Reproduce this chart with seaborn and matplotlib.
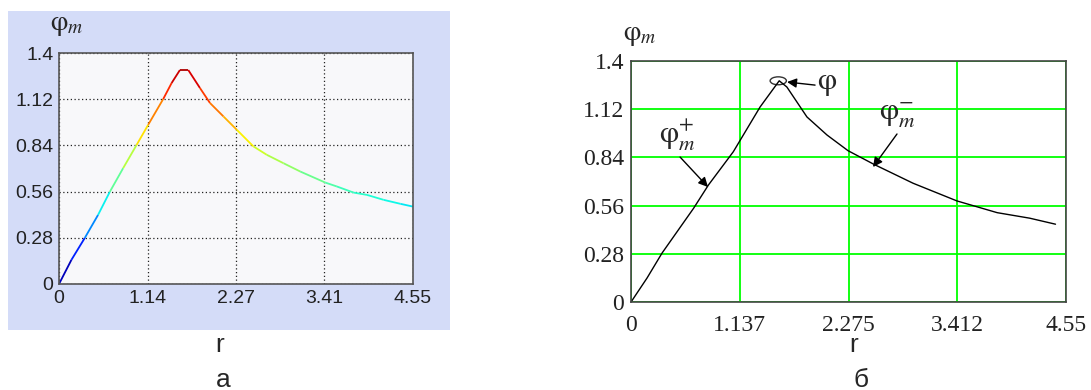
import numpy as np
import matplotlib
matplotlib.use('Agg')
import matplotlib.pyplot as plt
import seaborn as sns
import pandas as pd
from matplotlib.collections import LineCollection
from matplotlib.patches import Ellipse, Rectangle
from matplotlib.colors import Normalize

# panel a (coloured curve)
r_a = [0, 0.159, 0.331, 0.502, 0.652, 0.824, 0.996, 1.146, 1.339, 1.447, 1.554,
       1.661, 1.811, 1.940, 2.112, 2.284, 2.498, 2.670, 2.885, 3.099, 3.421,
       3.571, 3.786, 3.958, 4.172, 4.387, 4.55]
phi_a = [0, 0.146, 0.279, 0.419, 0.558, 0.702, 0.842, 0.965, 1.121, 1.218, 1.297,
         1.297, 1.188, 1.097, 1.016, 0.935, 0.834, 0.783, 0.732, 0.682, 0.615,
         0.591, 0.554, 0.540, 0.510, 0.486, 0.469]

# panel b (black curve)
r_b = [0, 0.167, 0.324, 0.655, 0.81, 1.07, 1.35, 1.55, 1.63, 1.84, 2.05, 2.27,
       2.54, 2.95, 3.41, 3.83, 4.17, 4.44]
phi_b = [0, 0.139, 0.284, 0.545, 0.68, 0.873, 1.133, 1.285, 1.249, 1.075, 0.97,
         0.879, 0.80, 0.69, 0.587, 0.519, 0.487, 0.452]

xticks_a = [0, 1.14, 2.27, 3.41, 4.55]
xticks_b = [0, 1.137, 2.275, 3.412, 4.55]
yticks = [0, 0.28, 0.56, 0.84, 1.12, 1.4]

sns.set_theme(style='white')
plt.rcParams['font.family'] = ['Liberation Sans', 'DejaVu Sans']
plt.rcParams['mathtext.fontset'] = 'stix'

fig = plt.figure(figsize=(10.91, 3.9), dpi=100)
fig.patches.append(Rectangle((0.0073, 0.1538), 0.405, 0.818, transform=fig.transFigure,
                             facecolor='#d4dcf8', edgecolor='none', zorder=-1))

######## panel a ########
ax1 = fig.add_axes([0.0541, 0.2718, 0.3245, 0.5923])
ax1.set_facecolor('#f8f8fa')
pts = np.array([r_a, phi_a]).T.reshape(-1, 1, 2)
segs = np.concatenate([pts[:-1], pts[1:]], axis=1)
lc = LineCollection(segs, cmap='jet', norm=Normalize(0, 1.35), linewidth=1.3)
lc.set_array((np.array(phi_a[:-1]) + np.array(phi_a[1:])) / 2)
ax1.add_collection(lc)
ax1.set_xlim(0, 4.55)
ax1.set_ylim(0, 1.4)
ax1.set_xticks(xticks_a)
ax1.set_xticklabels(['0', '1.14', '2.27', '3.41', '4.55'])
ax1.set_yticks(yticks)
ax1.set_yticklabels(['0', '0.28', '0.56', '0.84', '1.12', '1.4'])
ax1.grid(True, color='#222222', linestyle=(0, (1, 2)), linewidth=0.9)
ax1.tick_params(direction='in', length=3, labelsize=14, colors='#222222', pad=4)
for s in ax1.spines.values():
    s.set_color('#555555')
    s.set_linewidth(1.2)

fig.text(0.046, 0.936, r'$\mathrm{φ}_{m}$', fontsize=20, ha='left', va='center')
fig.text(0.2016, 0.115, 'r', fontsize=19, ha='center', va='center')
fig.text(0.205, 0.026, 'а', fontsize=19, ha='center', va='center')

######## panel b ########
ax2 = fig.add_axes([0.5784, 0.2256, 0.3987, 0.618])
ax2.set_facecolor('white')
df_b = pd.DataFrame({'r': r_b, 'phi': phi_b})
sns.lineplot(data=df_b, x='r', y='phi', ax=ax2, color='black', linewidth=1.0, sort=False)
ax2.set_xlim(0, 4.55)
ax2.set_ylim(0, 1.4)
ax2.set_xticks(xticks_b)
ax2.set_xticklabels(['0', '1.137', '2.275', '3.412', '4.55'], family='Liberation Serif')
ax2.set_yticks(yticks)
ax2.set_yticklabels(['0', '0.28', '0.56', '0.84', '1.12', '1.4'], family='Liberation Serif')
ax2.set_xlabel('')
ax2.set_ylabel('')
ax2.grid(True, color='#00ff00', linewidth=1.3)
ax2.set_axisbelow(True)
ax2.tick_params(length=0, labelsize=17, colors='#222222', pad=5)
ax2.tick_params(axis='x', pad=9)
for s in ax2.spines.values():
    s.set_color('#444444')
    s.set_linewidth(1.2)

ax2.add_patch(Ellipse((1.54, 1.285), 0.17, 0.046, fill=False, edgecolor='#333333', linewidth=1.0))
arrow = dict(arrowstyle='-|>', color='black', lw=1.0, mutation_scale=14, shrinkA=0, shrinkB=0)
ax2.annotate('', xy=(1.632, 1.278), xytext=(1.925, 1.26), arrowprops=arrow)
ax2.text(2.05, 1.272, r'$\mathrm{φ}$', fontsize=22, ha='center', va='center')
ax2.annotate('', xy=(0.805, 0.668), xytext=(0.513, 0.842), arrowprops=arrow)
ax2.text(0.48, 0.97, r'$\mathrm{φ}_{m}^{+}$', fontsize=22, ha='center', va='center')
ax2.annotate('', xy=(2.531, 0.784), xytext=(2.782, 0.976), arrowprops=arrow)
ax2.text(2.78, 1.086, r'$\mathrm{φ}_{m}^{-}$', fontsize=22, ha='center', va='center')

fig.text(0.571, 0.91, r'$\mathrm{φ}_{m}$', fontsize=20, ha='left', va='center')
fig.text(0.782, 0.115, 'r', fontsize=19, ha='center', va='center')
fig.text(0.789, 0.026, 'б', fontsize=19, ha='center', va='center')

fig.savefig('out.png', dpi=100, facecolor='white')
